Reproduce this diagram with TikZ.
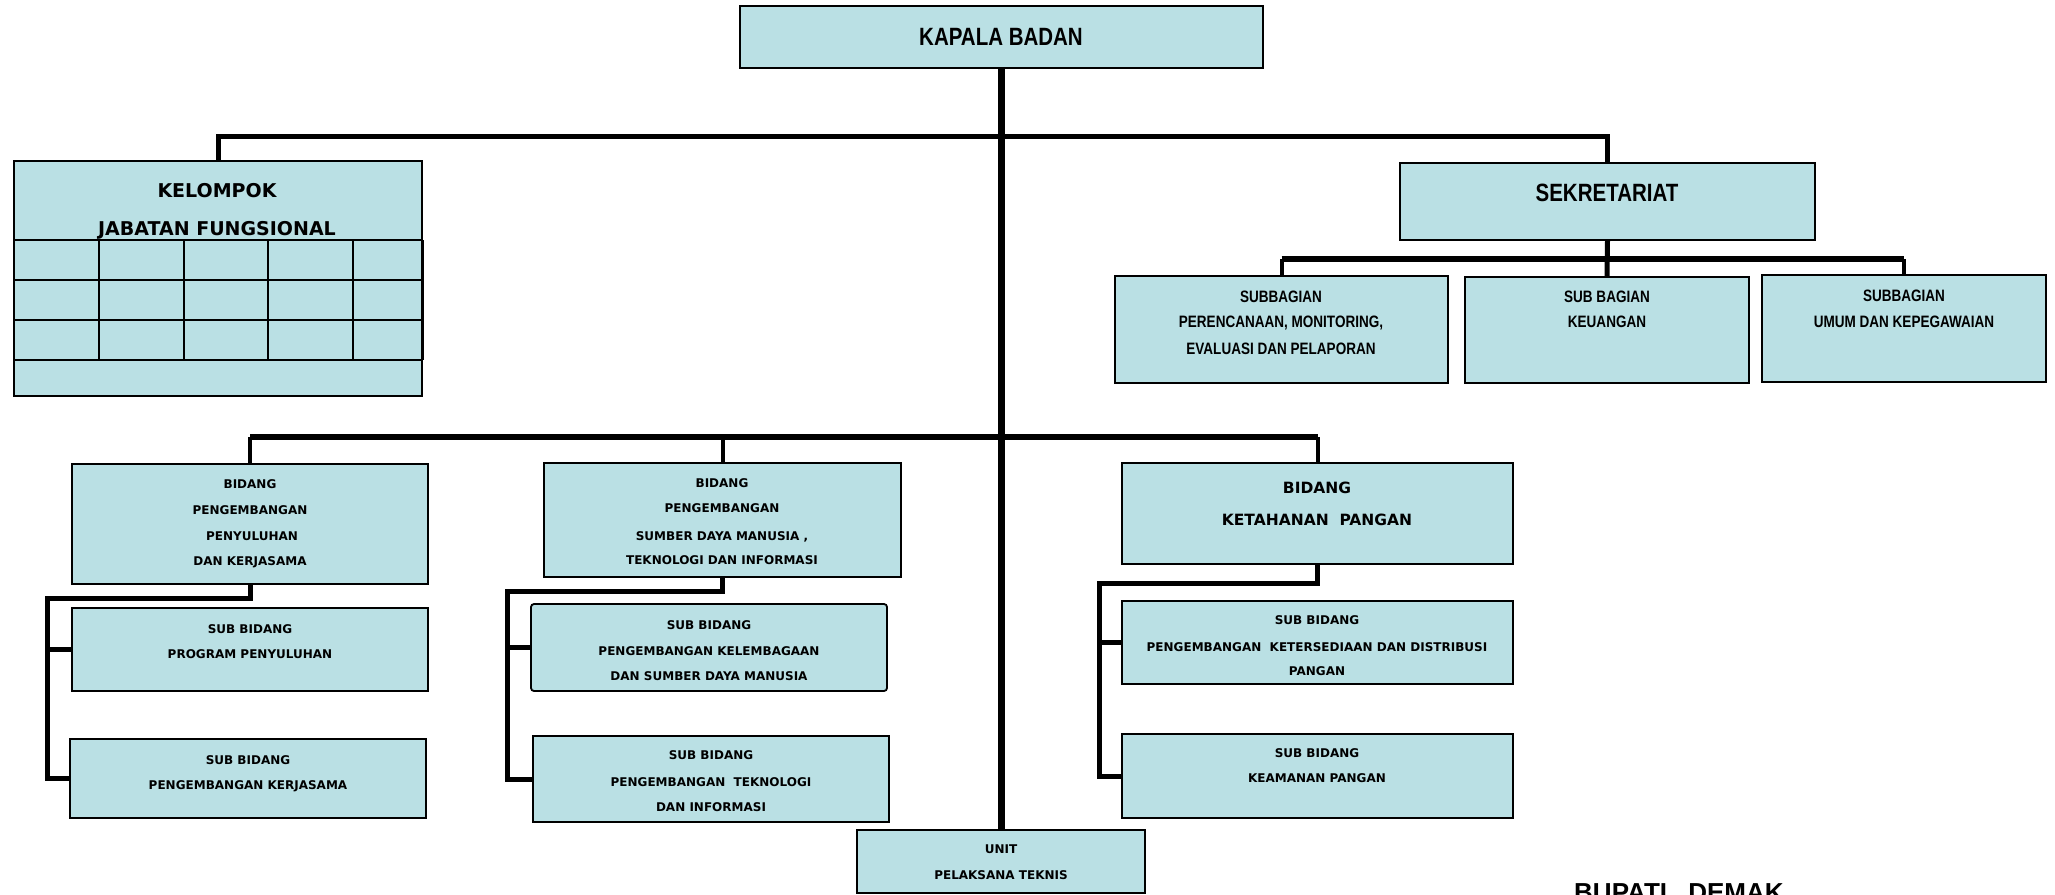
\documentclass[tikz,border=0pt]{standalone}
\usepackage{fontspec}
\setmainfont{DejaVu Sans}
\newfontfamily\narfont{Liberation Sans}[FakeStretch=0.82]
\newfontfamily\arifont{Liberation Sans}
\definecolor{boxfill}{RGB}{186,224,228}
\newcommand\bx[6]{\node[box,#6,minimum width={#4-#2},minimum height={#5-#3}] (#1) at ({(#2+#4)/2},{(#3+#5)/2}) {};}
\newcommand\tx[5]{\node[#2] (#1) at (#3,#4) {#5};}
\begin{document}
\begin{tikzpicture}[x=1pt,y=-1pt,
  box/.style={draw=black,line width=1.8pt,fill=boxfill,inner sep=0pt,outer sep=0pt,rectangle},
  tsm/.style={font=\bfseries\fontsize{12}{14}\selectfont,inner sep=0pt,text height=8.75pt,text depth=0pt},
  tmd/.style={font=\bfseries\fontsize{15.5}{18}\selectfont,inner sep=0pt,text height=11.3pt,text depth=0pt},
  tlg/.style={font=\bfseries\fontsize{19}{22}\selectfont,inner sep=0pt,text height=13.9pt,text depth=0pt},
  tnar/.style={font=\narfont\bfseries\fontsize{25}{28}\selectfont,inner sep=0pt,text height=17.9pt,text depth=0pt},
  tnsm/.style={font=\narfont\bfseries\fontsize{16.5}{19}\selectfont,inner sep=0pt,text height=11.8pt,text depth=0pt},
  conn/.style={draw=black,line width=5pt,line join=miter},
  connthin/.style={draw=black,line width=4pt},
  connthick/.style={draw=black,line width=6.5pt,line join=miter},
  gridline/.style={draw=black,line width=2.5pt}
]
\useasboundingbox (0,0) rectangle (2055,894);

% boxes
\bx{kb}{740}{6}{1263}{68}{}
\bx{kel}{14}{161}{422}{396}{}
\bx{sek}{1400}{163}{1815}{240}{}
\bx{sa}{1115}{276}{1448}{383}{}
\bx{sb}{1465}{277}{1749}{383}{}
\bx{sc}{1762}{275}{2046}{382}{}
\bx{b1}{72}{464}{428}{584}{}
\bx{s1a}{72}{608}{428}{691}{}
\bx{s1b}{70}{739}{426}{818}{}
\bx{b2}{544}{463}{901}{577}{}
\bx{s2a}{531}{604}{887}{691}{rounded corners=3pt}
\bx{s2b}{533}{736}{889}{822}{}
\bx{b3}{1122}{463}{1513}{564}{}
\bx{s3a}{1122}{601}{1513}{684}{}
\bx{s3b}{1122}{734}{1513}{818}{}
\bx{unit}{857}{830}{1145}{893}{}

% grid in kelompok
\foreach \yy in {240,280,320,360} \draw[gridline] (14,\yy) -- (423,\yy);
\foreach \xx in {14,99,184,268,353,423} \draw[gridline] (\xx,240) -- (\xx,360);

% junction coordinates
\coordinate (j1) at (1001.5,136);
\coordinate (j2) at (1607.5,259);
\coordinate (j3) at (1001.5,437);
\coordinate (c1) at (47,598);
\coordinate (c2) at (507,591);
\coordinate (c3) at (1099,583);

% connectors
\draw[connthick] (kb.south) -- (kb.south |- unit.north);
\draw[conn] (kel.north) |- (j1) -| (sek.north);
\draw[connthick] (j1) -- (kb.south |- j1);
\draw[conn] (sek.south) -- (sb.north);
\draw[connthin] (sa.north) -- (sa.north |- j2);
\draw[connthin] (sc.north) -- (sc.north |- j2);
\draw[connthick] (sa.north |- j2) -- (sc.north |- j2);
\draw[connthin] (b1.north) -- (b1.north |- j3);
\draw[connthin] (b2.north) -- (b2.north |- j3);
\draw[connthin] (b3.north) -- (b3.north |- j3);
\draw[connthick] (b1.north |- j3) -- (b3.north |- j3);
\draw[conn] (b1.south) |- (c1) |- (s1b.west);
\draw[conn] (c1 |- s1a.west) -- (s1a.west);
\draw[conn] (b2.south) |- (c2) |- (s2b.west);
\draw[conn] (c2 |- s2a.west) -- (s2a.west);
\draw[conn] (b3.south) |- (c3) |- (s3b.west);
\draw[conn] (c3 |- s3a.west) -- (s3a.west);

% texts
\tx{kbt}{tnar}{1001}{37}{KAPALA BADAN}
\tx{kelt1}{tlg}{217}{191}{KELOMPOK}
\tx{kelt2}{tlg}{217}{229}{JABATAN FUNGSIONAL}
\tx{sekt}{tnar}{1607}{193}{SEKRETARIAT}
\tx{sat1}{tnsm}{1281}{297}{SUBBAGIAN}
\tx{sat2}{tnsm}{1281}{322}{PERENCANAAN, MONITORING,}
\tx{sat3}{tnsm}{1281}{349}{EVALUASI DAN PELAPORAN}
\tx{sbt1}{tnsm}{1607}{297}{SUB BAGIAN}
\tx{sbt2}{tnsm}{1607}{322}{KEUANGAN}
\tx{sct1}{tnsm}{1904}{296}{SUBBAGIAN}
\tx{sct2}{tnsm}{1904}{322}{UMUM DAN KEPEGAWAIAN}

\tx{b1t1}{tsm}{250}{484}{BIDANG}
\tx{b1t2}{tsm}{250}{510}{PENGEMBANGAN}
\tx{b1t3}{tsm}{252}{536}{PENYULUHAN}
\tx{b1t4}{tsm}{250}{561}{DAN KERJASAMA}
\tx{s1at1}{tsm}{250}{629}{SUB BIDANG}
\tx{s1at2}{tsm}{250}{654}{PROGRAM PENYULUHAN}
\tx{s1bt1}{tsm}{248}{760}{SUB BIDANG}
\tx{s1bt2}{tsm}{248}{785}{PENGEMBANGAN KERJASAMA}

\tx{b2t1}{tsm}{722}{483}{BIDANG}
\tx{b2t2}{tsm}{722}{508}{PENGEMBANGAN}
\tx{b2t3}{tsm}{722}{536}{SUMBER DAYA MANUSIA ,}
\tx{b2t4}{tsm}{722}{560}{TEKNOLOGI DAN INFORMASI}
\tx{s2at1}{tsm}{709}{625}{SUB BIDANG}
\tx{s2at2}{tsm}{709}{651}{PENGEMBANGAN KELEMBAGAAN}
\tx{s2at3}{tsm}{709}{676}{DAN SUMBER DAYA MANUSIA}
\tx{s2bt1}{tsm}{711}{755}{SUB BIDANG}
\tx{s2bt2}{tsm}{711}{782}{PENGEMBANGAN\ \ TEKNOLOGI}
\tx{s2bt3}{tsm}{711}{807}{DAN INFORMASI}

\tx{b3t1}{tmd}{1317}{488}{BIDANG}
\tx{b3t2}{tmd}{1317}{520}{KETAHANAN\ \ PANGAN}
\tx{s3at1}{tsm}{1317}{620}{SUB BIDANG}
\tx{s3at2}{tsm}{1317}{647}{PENGEMBANGAN\ \ KETERSEDIAAN DAN DISTRIBUSI}
\tx{s3at3}{tsm}{1317}{671}{PANGAN}
\tx{s3bt1}{tsm}{1317}{753}{SUB BIDANG}
\tx{s3bt2}{tsm}{1317}{778}{KEAMANAN PANGAN}

\tx{ut1}{tsm}{1001}{849}{UNIT}
\tx{ut2}{tsm}{1001}{875}{PELAKSANA TEKNIS}

\node[font=\arifont\bfseries\fontsize{26}{29}\selectfont,inner sep=0pt,anchor=base west] (bup) at (1574,901) {BUPATI\hspace{14pt} DEMAK};
\end{tikzpicture}
\end{document}
